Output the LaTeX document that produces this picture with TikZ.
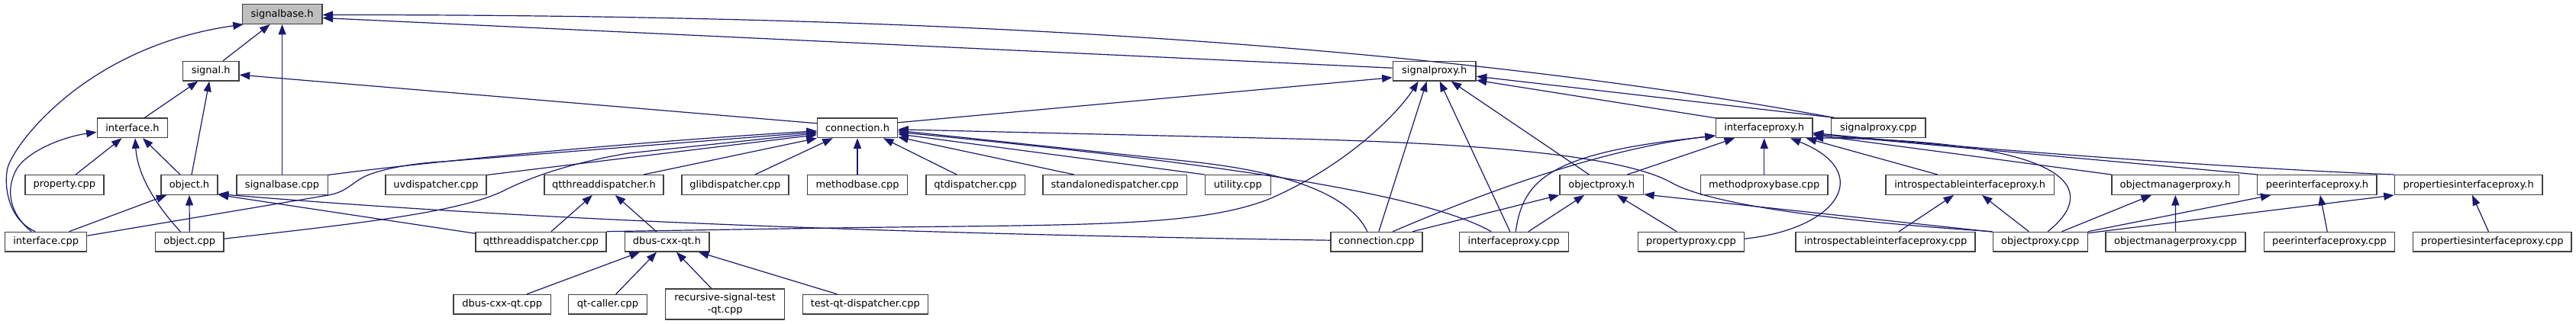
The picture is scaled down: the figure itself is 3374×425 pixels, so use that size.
\documentclass[tikz,border=0pt]{standalone}
\usepackage{fontspec}
\setmainfont{DejaVu Sans}
\usetikzlibrary{calc,arrows.meta}
\definecolor{edgec}{RGB}{25,25,112}
\definecolor{bord}{RGB}{64,64,64}
\definecolor{grayfill}{RGB}{191,191,191}
\begin{document}
\begin{tikzpicture}[x=1pt,y=-1pt,
  box/.style={draw=bord, line width=1.4pt, fill=white, minimum height=25.6pt, inner sep=0pt,
    font=\fontsize{13}{16}\selectfont, anchor=center},
  dep/.style={draw=edgec, line width=1.2pt, -{Triangle[length=13.5pt,width=10pt]}}]
\useasboundingbox[fill=white] (0,0) rectangle (3374,425);
% row 0
\node[box, minimum width=104.4pt, fill=grayfill] (sigbh) at (369.6,18.5) {signalbase.h};
% row 1
\node[box, minimum width=73.6pt] (sigh) at (276.2,93.2) {signal.h};
\node[box, minimum width=108.8pt] (sigproxh) at (1878.7,93.2) {signalproxy.h};
% row 2
\node[box, minimum width=92.5pt] (ifh) at (173.5,167.8) {interface.h};
\node[box, minimum width=105pt] (connh) at (1123,167.8) {connection.h};
\node[box, minimum width=126.5pt] (ifproxh) at (2310.7,167.8) {interfaceproxy.h};
\node[box, minimum width=123.2pt] (sigproxcpp) at (2460.3,167.8) {signalproxy.cpp};
% row 3
\node[box, minimum width=102.9pt] (propcpp) at (84.4,242.5) {property.cpp};
\node[box, minimum width=74.3pt] (objh) at (248,242.5) {object.h};
\node[box, minimum width=119.2pt] (sigbcpp) at (369.6,242.5) {signalbase.cpp};
\node[box, minimum width=132pt] (uvd) at (571,242.5) {uvdispatcher.cpp};
\node[box, minimum width=156.1pt] (qtth) at (790.9,242.5) {qtthreaddispatcher.h};
\node[box, minimum width=139.8pt] (glib) at (962.9,242.5) {glibdispatcher.cpp};
\node[box, minimum width=130.8pt] (mbase) at (1123,242.5) {methodbase.cpp};
\node[box, minimum width=129.4pt] (qtd) at (1277.6,242.5) {qtdispatcher.cpp};
\node[box, minimum width=188.3pt] (sad) at (1460.2,242.5) {standalonedispatcher.cpp};
\node[box, minimum width=85.8pt] (util) at (1621.3,242.5) {utility.cpp};
\node[box, minimum width=109.5pt] (objproxh) at (2097.7,242.5) {objectproxy.h};
\node[box, minimum width=166.4pt] (mpb) at (2310.7,242.5) {methodproxybase.cpp};
\node[box, minimum width=220.1pt] (iiph) at (2580.2,242.5) {introspectableinterfaceproxy.h};
\node[box, minimum width=166.4pt] (omph) at (2849.3,242.5) {objectmanagerproxy.h};
\node[box, minimum width=156.3pt] (piph) at (3034.9,242.5) {peerinterfaceproxy.h};
\node[box, minimum width=193.6pt] (prih) at (3233.2,242.5) {propertiesinterfaceproxy.h};
% row 4
\node[box, minimum width=106.9pt] (ifcpp) at (60.2,317.2) {interface.cpp};
\node[box, minimum width=89.5pt] (objcpp) at (248.3,317.2) {object.cpp};
\node[box, minimum width=170.9pt] (qttcpp) at (708.4,317.2) {qtthreaddispatcher.cpp};
\node[box, minimum width=110.6pt] (dbqh) at (873.5,317.2) {dbus-cxx-qt.h};
\node[box, minimum width=119.9pt] (conncpp) at (1802.9,317.2) {connection.cpp};
\node[box, minimum width=143.2pt] (ifproxcpp) at (1982.8,317.2) {interfaceproxy.cpp};
\node[box, minimum width=139pt] (propproxcpp) at (2214.9,317.2) {propertyproxy.cpp};
\node[box, minimum width=234.9pt] (iipcpp) at (2469.6,317.2) {introspectableinterfaceproxy.cpp};
\node[box, minimum width=124pt] (objproxcpp) at (2672.3,317.2) {objectproxy.cpp};
\node[box, minimum width=182.9pt] (ompcpp) at (2849.5,317.2) {objectmanagerproxy.cpp};
\node[box, minimum width=171pt] (pipcpp) at (3050.9,317.2) {peerinterfaceproxy.cpp};
\node[box, minimum width=207.9pt] (pricpp) at (3264.2,317.2) {propertiesinterfaceproxy.cpp};
% row 5
\node[box, minimum width=127.3pt] (dbqcpp) at (657.7,399.3) {dbus-cxx-qt.cpp};
\node[box, minimum width=102.9pt] (qtcaller) at (796,399.3) {qt-caller.cpp};
\node[box, minimum width=156.1pt, minimum height=40pt, align=center] (rst) at (949.6,399) {recursive-signal-test\\-qt.cpp};
\node[box, minimum width=164.1pt] (tqd) at (1133.3,399.3) {test-qt-dispatcher.cpp};

% ---- edges into signalbase.h
\draw[dep] ($(ifcpp.north)+(-14,0)$) .. controls (5,285) and (5.3,232) .. (11,217)
  .. controls (25,180) and (120,60) .. ($(sigbh.south west)+(2,0)$);
\draw[dep] ($(sigh.north)+(16,0)$) -- ($(sigbh.south)+(-16,0)$);
\draw[dep] (sigbcpp.north) -- (sigbh.south);
\draw[dep] ($(sigproxh.west)+(0,-4)$) -- ($(sigbh.east)+(0,5)$);
\draw[dep] ($(sigproxcpp.north west)+(4,0)$) .. controls (1803,45) and (1100,19.3) .. ($(sigbh.east)+(0,1)$);
% ---- signal.h
\draw[dep] ($(ifh.north)+(16,0)$) -- ($(sigh.south)+(-17,0)$);
\draw[dep] ($(objh.north)+(3,0)$) -- ($(sigh.south)+(-2,0)$);
\draw[dep] ($(connh.west)+(0,-6)$) -- ($(sigh.east)+(0,5)$);
% ---- interface.h
\draw[dep] ($(ifcpp.north)+(-19,0)$) .. controls (12,280) and (8,250) .. (20,225)
  .. controls (32,200) and (80,180) .. ($(ifh.west)+(0,5.5)$);
\draw[dep] ($(propcpp.north)+(14.7,0)$) -- ($(ifh.south)+(-14,0)$);
\draw[dep] ($(objcpp.north)+(-12,0)$) .. controls (205,270) and (180,230) .. ($(ifh.south)+(3.5,0)$);
\draw[dep] ($(objh.north)+(-12,0)$) -- ($(ifh.south)+(13.5,0)$);
% ---- object.h
\draw[dep] ($(ifcpp.north)+(30.4,0)$) -- ($(objh.south)+(-29.7,0)$);
\draw[dep] (objcpp.north) -- (objh.south);
\draw[dep] ($(conncpp.west)+(0,-2)$) .. controls (1143,306) and (687,288) .. ($(objh.south east)+(0,-1.5)$);
\draw[dep] ($(qttcpp.west)+(0,-11)$) -- ($(objh.south east)+(0,-0.5)$);
% ---- connection.h
\draw[dep] ($(sigbcpp.north east)+(0,0.5)$) .. controls (530,216) and (800,188) .. ($(connh.west)+(0,4)$);
\draw[dep] ($(ifcpp.east)+(0,-8)$) -- (430,256) .. controls (455,251.8) and (462,238) .. (481,230)
  .. controls (500,222) and (540,214) .. (580,212) -- ($(connh.west)+(0,5.5)$);
\draw[dep] ($(uvd.north east)+(0,0.5)$) -- ($(connh.west)+(0,9)$);
\draw[dep] ($(objcpp.east)+(0,-4)$) .. controls (450,295) and (600,280) .. (660,250)
  .. controls (690,235) and (740,215) .. (823,201) -- ($(connh.west)+(0,7)$);
\draw[dep] ($(qtth.north)+(52,0)$) -- (connh.south west);
\draw[dep] ($(glib.north)+(26,0)$) -- ($(connh.south west)+(21,0)$);
\draw[dep] (mbase.north) -- (connh.south);
\draw[dep] ($(qtd.north)+(-24.4,0)$) -- ($(connh.south)+(34,0)$);
\draw[dep] ($(sad.north)+(-53.5,0)$) -- ($(connh.south east)+(0,-1.5)$);
\draw[dep] (util.north west) -- ($(connh.east)+(0,8)$);
\draw[dep] ($(conncpp.north)+(-12,0)$) .. controls (1770,260) and (1700,227) .. (1560,212) -- ($(connh.east)+(0,3.5)$);
\draw[dep] ($(ifproxcpp.north west)+(42.6,0)$) .. controls (1850,245) and (1500,205) .. ($(connh.east)+(0,5.5)$);
\draw[dep] (objproxcpp.north west) .. controls (2400,290) and (2240,268) .. (2190,240)
  .. controls (2120,200) and (1900,187) .. (1680,181.7) -- ($(connh.east)+(0,2)$);
% ---- signalproxy.h
\draw[dep] ($(connh.north east)+(0,6.5)$) -- ($(sigproxh.west)+(0,8.5)$);
\draw[dep] (qttcpp.north east) -- (1060,299.5) .. controls (1400,294) and (1560,300) .. (1660,262)
  .. controls (1760,220) and (1830,150) .. ($(sigproxh.south)+(-21,0)$);
\draw[dep] ($(conncpp.north)+(3,0)$) -- ($(sigproxh.south)+(-10,0)$);
\draw[dep] ($(ifproxcpp.north)+(-5,0)$) -- ($(sigproxh.south)+(7,0)$);
\draw[dep] ($(objproxh.north)+(-16.3,0)$) -- ($(sigproxh.south)+(22,0)$);
\draw[dep] ($(sigproxcpp.north west)+(4,0)$) -- ($(sigproxh.east)+(0,7)$);
\draw[dep] ($(ifproxh.north west)+(0,0.5)$) -- ($(sigproxh.south east)+(0,-1.5)$);
% ---- qtthreaddispatcher.h
\draw[dep] ($(qttcpp.north)+(13.6,0)$) -- ($(qtth.south)+(-15,0)$);
\draw[dep] ($(dbqh.north)+(-13.8,0)$) -- ($(qtth.south)+(15,0)$);
% ---- dbus-cxx-qt.h
\draw[dep] ($(dbqcpp.north)+(32.3,0)$) -- ($(dbqh.south)+(-35.5,0)$);
\draw[dep] ($(qtcaller.north)+(10.7,0)$) -- ($(dbqh.south)+(-13.5,0)$);
\draw[dep] ($(rst.north)+(-17.9,0)$) -- ($(dbqh.south)+(12.5,0)$);
\draw[dep] ($(tqd.north)+(-36.9,0)$) -- ($(dbqh.south)+(41.5,0)$);
% ---- interfaceproxy.h
\draw[dep] ($(conncpp.north)+(21.4,0)$) .. controls (1950,250) and (2100,195) .. ($(ifproxh.west)+(0,10)$);
\draw[dep] ($(ifproxcpp.north)+(2.4,0)$) .. controls (1995,235) and (2030,200) .. ($(ifproxh.west)+(0,10.5)$);
\draw[dep] ($(objproxh.north)+(33.6,0)$) -- ($(ifproxh.south)+(-38.7,0)$);
\draw[dep] (mpb.north) -- (ifproxh.south);
\draw[dep] ($(propproxcpp.east)+(0,-4)$) .. controls (2410,300) and (2455,225) .. ($(ifproxh.south)+(34.3,0)$);
\draw[dep] ($(iiph.north)+(-42.4,0)$) -- ($(ifproxh.south east)+(-9,0)$);
\draw[dep] ($(objproxcpp.north)+(9.8,0)$) .. controls (2750,250) and (2720,185) .. ($(ifproxh.south east)+(0,-0.5)$);
\draw[dep] (omph.north west) -- ($(ifproxh.east)+(0,9)$);
\draw[dep] ($(piph.north west)+(0.7,0)$) -- ($(ifproxh.east)+(0,8)$);
\draw[dep] (prih.north west) .. controls (2950,222) and (2600,197) .. ($(ifproxh.east)+(0,6.5)$);
% ---- objectproxy.h
\draw[dep] ($(conncpp.north)+(47.3,0)$) -- (objproxh.south west);
\draw[dep] ($(ifproxcpp.north)+(19.1,0)$) -- ($(objproxh.south)+(-22.7,0)$);
\draw[dep] ($(propproxcpp.north)+(-18.8,0)$) -- ($(objproxh.south)+(20.3,0)$);
\draw[dep] ($(objproxcpp.north west)+(0,0.5)$) -- ($(objproxh.south east)+(0,-1)$);
% ---- introspectableinterfaceproxy.h
\draw[dep] ($(iipcpp.north)+(17.5,0)$) -- ($(iiph.south)+(-21.2,0)$);
\draw[dep] ($(objproxcpp.north)+(-15,0)$) -- ($(iiph.south)+(15.8,0)$);
% ---- objectmanagerproxy.h
\draw[dep] ($(objproxcpp.north)+(28.3,0)$) -- ($(omph.south)+(-31.3,0)$);
\draw[dep] (ompcpp.north) -- (omph.south);
% ---- peerinterfaceproxy.h
\draw[dep] (objproxcpp.north east) -- ($(piph.south west)+(18.3,0)$);
\draw[dep] ($(pipcpp.north)+(-2.7,0)$) -- ($(piph.south)+(4,0)$);
% ---- propertiesinterfaceproxy.h
\draw[dep] ($(objproxcpp.east)+(0,-11.5)$) -- (prih.south west);
\draw[dep] ($(pricpp.north)+(-4.8,0)$) -- ($(prih.south)+(4.8,0)$);
\end{tikzpicture}
\end{document}
